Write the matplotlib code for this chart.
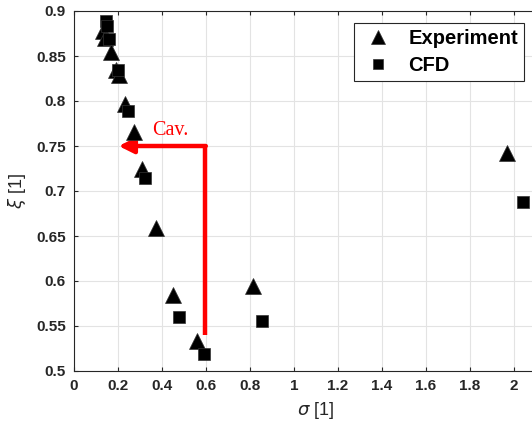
import matplotlib
matplotlib.use("Agg")
import matplotlib.pyplot as plt
import numpy as np

# Experiment (triangles)
exp_sigma = [0.13, 0.14, 0.17, 0.19, 0.205, 0.232, 0.273, 0.308, 0.371, 0.451, 0.561, 0.815, 1.967]
exp_xi = [0.878, 0.870, 0.855, 0.835, 0.829, 0.797, 0.766, 0.724, 0.659, 0.584, 0.533, 0.595, 0.742]

# CFD (squares)
cfd_sigma = [0.145, 0.15, 0.16, 0.20, 0.247, 0.323, 0.479, 0.591, 0.856, 2.04]
cfd_xi = [0.889, 0.883, 0.869, 0.834, 0.789, 0.714, 0.560, 0.519, 0.555, 0.688]

xticks = [0, 0.2, 0.4, 0.6, 0.8, 1, 1.2, 1.4, 1.6, 1.8, 2]
xticklabels = ["0", "0.2", "0.4", "0.6", "0.8", "1", "1.2", "1.4", "1.6", "1.8", "2"]
yticks = [0.5, 0.55, 0.6, 0.65, 0.7, 0.75, 0.8, 0.85, 0.9]
yticklabels = ["0.5", "0.55", "0.6", "0.65", "0.7", "0.75", "0.8", "0.85", "0.9"]

plt.rcParams['font.family'] = ['Liberation Sans', 'DejaVu Sans']

fig = plt.figure(figsize=(5.32, 4.26), dpi=100)
ax = fig.add_axes([74/532, 55/426, 484/532, 360/426])

ax.plot(exp_sigma, exp_xi, linestyle='none', marker='^', markersize=11,
        markerfacecolor='black', markeredgecolor='#333333', markeredgewidth=0.5,
        label='Experiment', zorder=3)
ax.plot(cfd_sigma, cfd_xi, linestyle='none', marker='s', markersize=8.5,
        markerfacecolor='black', markeredgecolor='#333333', markeredgewidth=0.5,
        label='CFD', zorder=3)

# Cavitation arrow
ax.plot([0.595, 0.595], [0.540, 0.750], color='red', lw=3.2, solid_capstyle='butt', zorder=2)
ax.annotate('', xy=(0.203, 0.750), xytext=(0.599, 0.750),
            arrowprops=dict(arrowstyle='-|>', color='red', lw=3.2,
                            mutation_scale=22, shrinkA=0, shrinkB=0), zorder=2)
ax.text(0.44, 0.767, 'Cav.', color='red', fontsize=14.5,
        family=['Liberation Serif', 'DejaVu Serif'], ha='center', va='center')

ax.set_xlim(0, 2.2)
ax.set_ylim(0.5, 0.9)
ax.set_xticks(xticks)
ax.set_xticklabels(xticklabels, fontweight='bold', fontsize=11)
ax.set_yticks(yticks)
ax.set_yticklabels(yticklabels, fontweight='bold', fontsize=11)

ax.grid(True, color='#e3e3e3', linewidth=0.8)
ax.set_axisbelow(True)
ax.tick_params(direction='in', top=True, right=True, length=3, width=0.8,
               colors='#262626', labelcolor='#262626', pad=6)
for s in ax.spines.values():
    s.set_color('#262626')
    s.set_linewidth(0.8)

ax.set_xlabel(r'$\sigma$ [1]', fontsize=13, color='#262626', labelpad=5)
ax.set_ylabel(r'$\xi$ [1]', fontsize=13, color='#262626', labelpad=6)

leg = ax.legend(loc='upper left', bbox_to_anchor=(280/484, 1 - 12/360),
                borderaxespad=0,
                prop={'weight': 'bold', 'size': 14.5}, fancybox=False,
                edgecolor='#262626', framealpha=1, handletextpad=0.6,
                borderpad=0.3, labelspacing=0.4, handlelength=1.8,
                markerscale=0.9)
leg.get_frame().set_linewidth(0.8)

fig.savefig('out.png', dpi=100)
